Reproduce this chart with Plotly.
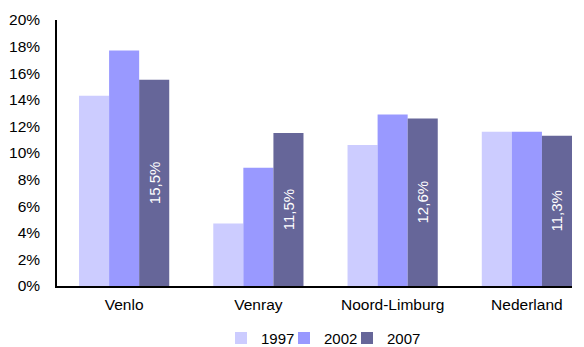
import plotly.graph_objects as go

regions = ["Venlo", "Venray", "Noord-Limburg", "Nederland"]
years = ["1997", "2002", "2007"]
share_1997 = [14.3, 4.7, 10.6, 11.6]
share_2002 = [17.7, 8.9, 12.9, 11.6]
share_2007 = [15.5, 11.5, 12.6, 11.3]
colors = ["#CCCCFF", "#9999FF", "#666699"]
y_ticks = [0, 2, 4, 6, 8, 10, 12, 14, 16, 18, 20]

FONT = "Liberation Sans, Arial, Helvetica, sans-serif"

# one compact legend per year, laid out side by side under the axis
legend_ids = ["legend", "legend2", "legend3"]
legend_left_px = [221, 284, 347]

fig = go.Figure()
for year, vals, col, lid in zip(years, [share_1997, share_2002, share_2007], colors, legend_ids):
    labelled = year == "2007"
    fig.add_trace(go.Bar(
        x=regions,
        y=vals,
        name=year,
        legend=lid,
        marker=dict(color=col, line=dict(width=0)),
        text=vals if labelled else None,
        texttemplate="%{y:.1f}%" if labelled else None,
        textposition="inside" if labelled else "none",
        insidetextanchor="middle",
        textangle=-90,
        textfont=dict(color="white", size=15, family=FONT),
        hoverinfo="skip",
    ))

legend_style = dict(
    orientation="h",
    xref="container",
    yref="container",
    xanchor="left",
    y=0.073,
    yanchor="top",
    font=dict(size=15, family=FONT),
    itemwidth=30,
    bgcolor="rgba(0,0,0,0)",
)

fig.update_layout(
    width=584,
    height=347,
    margin=dict(l=57, r=12, t=20, b=61, autoexpand=False),
    paper_bgcolor="white",
    plot_bgcolor="white",
    barmode="group",
    bargap=0.328,
    bargroupgap=0,
    separators=",.",
    font=dict(family=FONT, size=15.5, color="black"),
    showlegend=True,
    xaxis=dict(
        range=[-0.5, 3.336],
        showline=True,
        linecolor="black",
        linewidth=1.5,
        ticks="",
        showgrid=False,
        ticklabelstandoff=4,
    ),
    yaxis=dict(
        range=[0, 20],
        tickvals=y_ticks,
        ticktext=[f"{v}%" for v in y_ticks],
        showline=True,
        linecolor="black",
        linewidth=1.5,
        ticks="",
        showgrid=False,
        zeroline=False,
        ticklabelstandoff=12,
    ),
)
for lid, px in zip(legend_ids, legend_left_px):
    fig.update_layout({lid: dict(legend_style, x=px / 584)})

fig.write_html("out.html")
